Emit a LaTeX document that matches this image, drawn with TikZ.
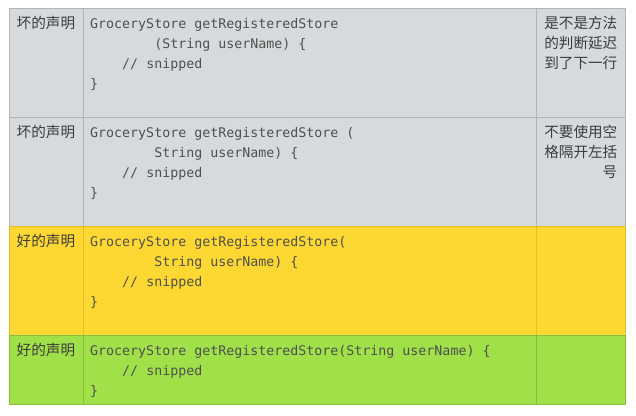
\documentclass[tikz,border=0pt]{standalone}
\usepackage{fontspec}
\newfontfamily\cjk{Noto Sans CJK SC}
\newfontfamily\codefont{DejaVu Sans Mono}
\definecolor{grayfill}{RGB}{214,218,220}
\definecolor{grayline}{RGB}{178,182,184}
\definecolor{yelfill}{RGB}{253,216,50}
\definecolor{yelline}{RGB}{228,190,40}
\definecolor{grnfill}{RGB}{160,224,72}
\definecolor{grnline}{RGB}{138,190,60}
\definecolor{txtc}{RGB}{60,60,60}
\definecolor{codec}{RGB}{80,80,80}
\newcommand{\ind}[1]{\phantom{#1}}
\begin{document}
\begin{tikzpicture}[x=1pt,y=-1pt,
  cellbox/.style={line width=1pt, anchor=north west, inner sep=0pt, outer sep=0pt},
  lab/.style={font=\cjk\fontsize{14.6}{20}\selectfont, text=txtc, anchor=base west, inner sep=0pt},
  note/.style={font=\cjk\fontsize{14.6}{20}\selectfont, text=txtc, anchor=base east, inner sep=0pt},
  code/.style={font=\codefont\fontsize{13.3}{20}\selectfont, text=codec, anchor=base west, inner sep=0pt}]
\useasboundingbox (0,0) rectangle (636,415);
% row 1
\node[cellbox, fill=grayfill, draw=grayline, minimum width=74pt, minimum height=109pt] (r1a) at (9,8) {};
\node[cellbox, fill=grayfill, draw=grayline, minimum width=453pt, minimum height=109pt] (r1b) at (83,8) {};
\node[cellbox, fill=grayfill, draw=grayline, minimum width=89pt, minimum height=109pt] (r1c) at (536,8) {};
% row 2
\node[cellbox, fill=grayfill, draw=grayline, minimum width=74pt, minimum height=109pt] (r2a) at (9,117) {};
\node[cellbox, fill=grayfill, draw=grayline, minimum width=453pt, minimum height=109pt] (r2b) at (83,117) {};
\node[cellbox, fill=grayfill, draw=grayline, minimum width=89pt, minimum height=109pt] (r2c) at (536,117) {};
% row 3
\node[cellbox, fill=yelfill, draw=yelline, minimum width=74pt, minimum height=109pt] (r3a) at (9,226) {};
\node[cellbox, fill=yelfill, draw=yelline, minimum width=453pt, minimum height=109pt] (r3b) at (83,226) {};
\node[cellbox, fill=yelfill, draw=yelline, minimum width=89pt, minimum height=109pt] (r3c) at (536,226) {};
% row 4
\node[cellbox, fill=grnfill, draw=grnline, minimum width=74pt, minimum height=69pt] (r4a) at (9,335) {};
\node[cellbox, fill=grnfill, draw=grnline, minimum width=453pt, minimum height=69pt] (r4b) at (83,335) {};
\node[cellbox, fill=grnfill, draw=grnline, minimum width=89pt, minimum height=69pt] (r4c) at (536,335) {};

% labels
\node[lab] (l1) at (16.5,28) {坏的声明};
\node[lab] (l2) at (16.5,137) {坏的声明};
\node[lab] (l3) at (16.5,246) {好的声明};
\node[lab] (l4) at (16.5,355) {好的声明};

% notes
\node[note] (n1a) at (617.5,28) {是不是方法};
\node[note] (n1b) at (617.5,48) {的判断延迟};
\node[note] (n1c) at (617.5,68) {到了下一行};
\node[note] (n2a) at (617.5,137) {不要使用空};
\node[note] (n2b) at (617.5,157) {格隔开左括};
\node[note] (n2c) at (617.5,177) {号};

% code row 1
\node[code] (c1a) at (90,28) {GroceryStore getRegisteredStore};
\node[code] (c1b) at (90,48) {\ind{00000000}(String userName) \{};
\node[code] (c1c) at (90,68) {\ind{0000}// snipped};
\node[code] (c1d) at (90,88) {\}};
% code row 2
\node[code] (c2a) at (90,137) {GroceryStore getRegisteredStore (};
\node[code] (c2b) at (90,157) {\ind{00000000}String userName) \{};
\node[code] (c2c) at (90,177) {\ind{0000}// snipped};
\node[code] (c2d) at (90,197) {\}};
% code row 3
\node[code] (c3a) at (90,246) {GroceryStore getRegisteredStore(};
\node[code] (c3b) at (90,266) {\ind{00000000}String userName) \{};
\node[code] (c3c) at (90,286) {\ind{0000}// snipped};
\node[code] (c3d) at (90,306) {\}};
% code row 4
\node[code] (c4a) at (90,355) {GroceryStore getRegisteredStore(String userName) \{};
\node[code] (c4b) at (90,375) {\ind{0000}// snipped};
\node[code] (c4c) at (90,395) {\}};
\end{tikzpicture}
\end{document}
